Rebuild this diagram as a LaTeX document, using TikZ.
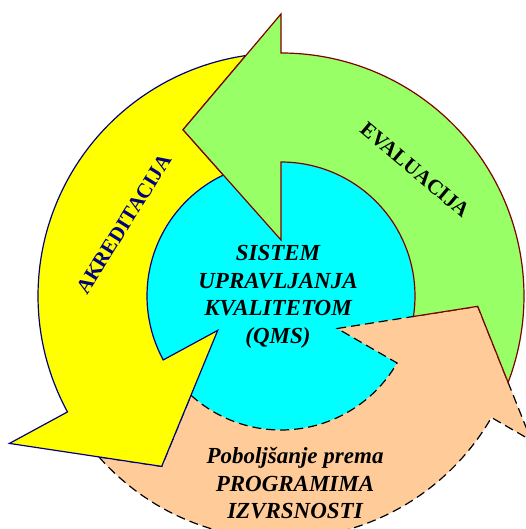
\documentclass[tikz,border=0pt]{standalone}
\usepackage{fontspec}
\setmainfont{Liberation Serif}
\definecolor{coreblue}{RGB}{0,255,255}
\definecolor{akryellow}{RGB}{255,255,0}
\definecolor{evalgreen}{RGB}{153,255,102}
\definecolor{peach}{RGB}{255,204,153}
\definecolor{navy}{RGB}{0,0,128}
\definecolor{darkred}{RGB}{128,0,0}

\begin{document}
\begin{tikzpicture}[x=1pt,y=1pt,
  arrowband/.style={line width=1.2pt, line join=miter},
  bandlabel/.style={font=\fontsize{21}{25}\selectfont\bfseries},
  corelabel/.style={align=center, inner sep=0pt,
    font=\fontsize{23}{27.7}\selectfont\bfseries\itshape}]
\useasboundingbox (0,0) rectangle (526,529);
\clip (0,0) rectangle (526,529);

\begin{scope}[shift={(281,233)}]
\fill[coreblue] (0,0) circle[radius=134];

% Poboljsanje (bottom)
\draw[arrowband, fill=peach, dash pattern=on 9pt off 5pt]
(221.47:243) arc[start angle=221.47, end angle=330, radius=243]
-- (330:289) -- (357:197) -- (330:65) -- (330:134)
arc[start angle=330, end angle=227.8, radius=134]
-- (235:208) -- cycle;

% Akreditacija (left)
\draw[arrowband, fill=akryellow, draw=navy]
(98.33:243) arc[start angle=98.33, end angle=208.5, radius=243]
-- (208.5:309) -- (235:208) -- (208.5:72) -- (208.5:134)
arc[start angle=208.5, end angle=115.5, radius=134]
-- (120.5:193) -- cycle;

% Evaluacija (right)
\draw[arrowband, fill=evalgreen, draw=darkred]
(-20.84:243) arc[start angle=-20.84, end angle=90, radius=243]
-- (90:282) -- (120.5:193) -- (90:56) -- (90:134)
arc[start angle=90, end angle=-8.79, radius=134]
-- (357:197) -- cycle;
\end{scope}

\node[bandlabel, text=navy, rotate=58] (akr) at (124,305) {AKREDITACIJA};
\node[bandlabel, rotate=-40] (eval) at (415,359) {EVALUACIJA};

\node[corelabel, anchor=north] (qms) at (278,284)
{SISTEM\\UPRAVLJANJA\\KVALITETOM\\(QMS)};
\node[corelabel, anchor=north] (izv) at (295,82)
{Poboljšanje prema\\PROGRAMIMA\\IZVRSNOSTI};

\end{tikzpicture}
\end{document}
